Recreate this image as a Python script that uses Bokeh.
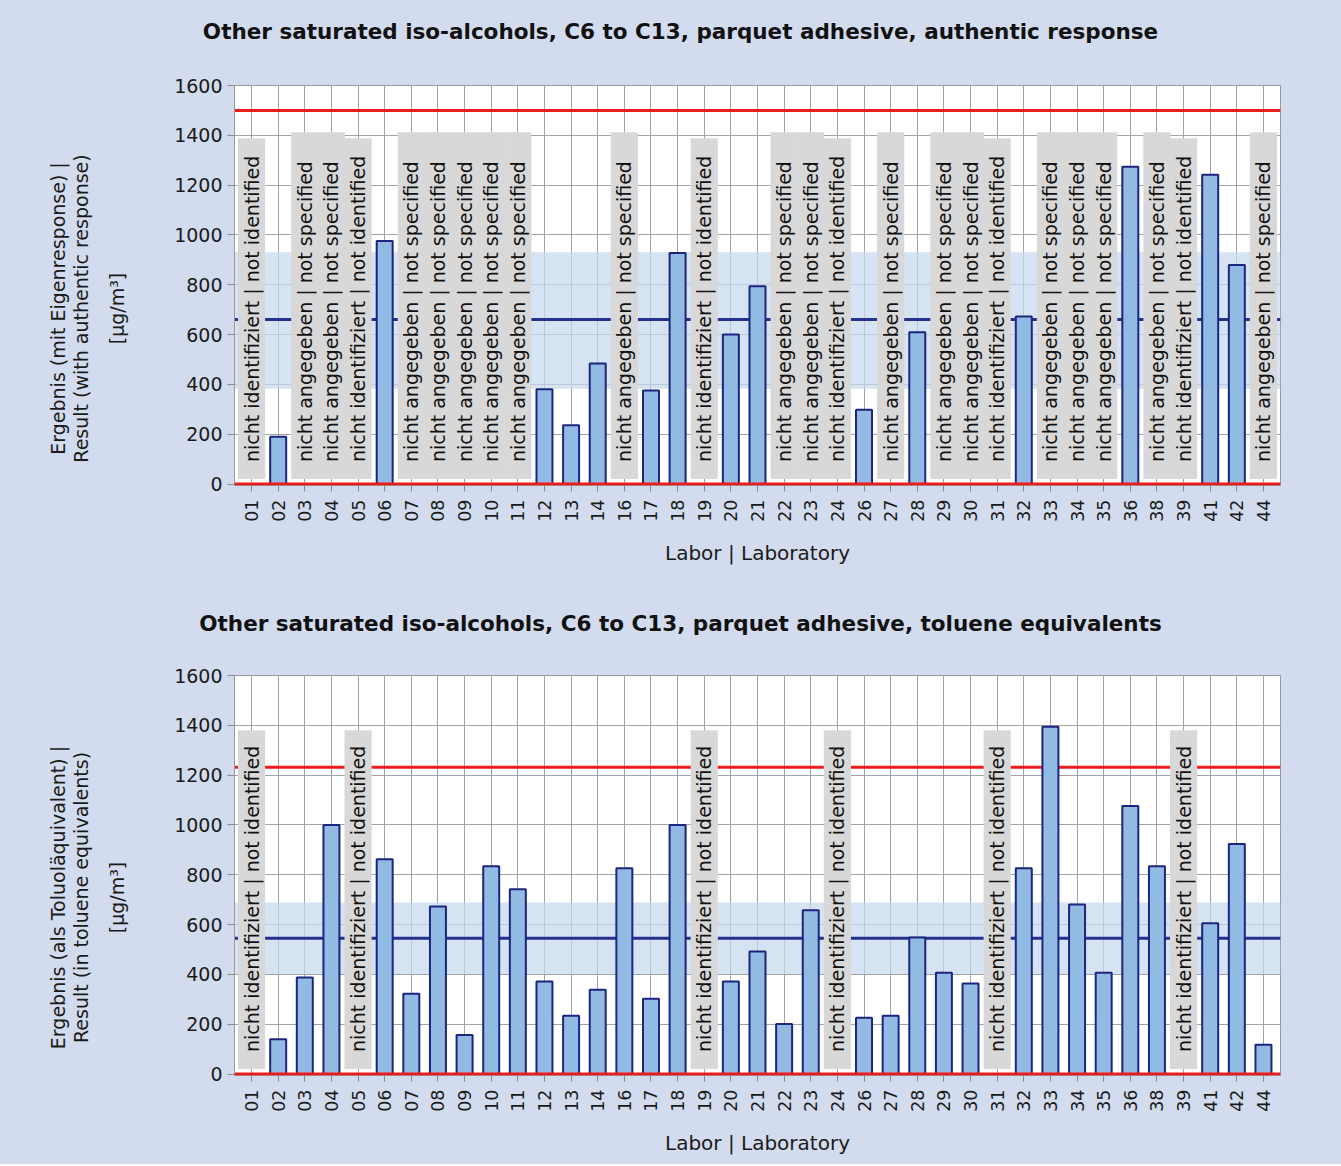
import math
from bokeh.plotting import figure
from bokeh.models import (FactorRange, Range1d, ColumnDataSource, Span, BoxAnnotation,
                          FixedTicker)
from bokeh.layouts import column, row
from bokeh.core.properties import value
from bokeh.embed import file_html
from bokeh.resources import INLINE

# ---------------- data ----------------
labs = ["01", "02", "03", "04", "05", "06", "07", "08", "09", "10", "11", "12", "13",
        "14", "16", "17", "18", "19", "20", "21", "22", "23", "24", "26", "27", "28",
        "29", "30", "31", "32", "33", "34", "35", "36", "38", "39", "41", "42", "44"]

# top chart: authentic response (None = no value; status gives the reason)
top_values = [None, 190, None, None, None, 976, None, None, None, None, None, 380, 236,
              484, None, 375, 927, None, 600, 794, None, None, None, 298, None, 609,
              None, None, None, 673, None, None, None, 1274, None, None, 1242, 879, None]
top_status = ["ni", "", "ns", "ns", "ni", "", "ns", "ns", "ns", "ns", "ns", "", "",
              "", "ns", "", "", "ni", "", "", "ns", "ns", "ni", "", "ns", "",
              "ns", "ns", "ni", "", "ns", "ns", "ns", "", "ns", "ni", "", "", "ns"]

# bottom chart: toluene equivalents
bot_values = [None, 140, 387, 1000, None, 862, 322, 673, 157, 834, 742, 371, 234,
              338, 826, 302, 1000, None, 371, 492, 201, 657, None, 226, 234, 548,
              407, 363, None, 826, 1394, 681, 407, 1076, 834, None, 605, 923, 117]
bot_status = ["ni", "", "", "", "ni", "", "", "", "", "", "", "", "",
              "", "", "", "", "ni", "", "", "", "", "ni", "", "", "",
              "", "", "ni", "", "", "", "", "", "", "ni", "", "", ""]

status_text = {"ni": "nicht identifiziert | not identified",
               "ns": "nicht angegeben | not specified"}

y_ticks = [0, 200, 400, 600, 800, 1000, 1200, 1400, 1600]

top_title = "Other saturated iso-alcohols, C6 to C13, parquet adhesive, authentic response"
bot_title = "Other saturated iso-alcohols, C6 to C13, parquet adhesive, toluene equivalents"
top_ylab = ["Ergebnis (mit Eigenresponse) |", "Result (with authentic response)", "[µg/m³]"]
bot_ylab = ["Ergebnis (als Toluoläquivalent) |", "Result (in toluene equivalents)", "[µg/m³]"]
x_label = "Labor | Laboratory"

top_ref = dict(upper=1500, mean=660, band=(382, 930))
bot_ref = dict(upper=1232, mean=545, band=(402, 689))

# ---------------- style ----------------
BG = "#d2dcee"
GRID = "#a3a3a3"
BAR_FILL = "#91bbe2"
BAR_LINE = "#1c2580"
RED = "#ec1c1c"
MEAN = "#26318c"
BAND = "#c3d7ee"
BOX = "#d8d8d8"
FONT = "DejaVu Sans"

PAGE_W = 1341
LEFT_W = 164
FRAME_H = 400


def strip(width, height, bt=0, bb=0):
    s = figure(width=width, height=height, x_range=Range1d(0, width),
               y_range=Range1d(0, height - bt - bb), x_axis_location=None,
               y_axis_location=None, min_border=0, min_border_top=bt,
               min_border_bottom=bb, output_backend="svg", toolbar_location=None,
               background_fill_color=BG, border_fill_color=BG, title=None)
    s.outline_line_color = None
    s.xgrid.visible = False
    s.ygrid.visible = False
    return s


def title_strip(title, height, y_center_from_top):
    s = strip(PAGE_W, height)
    s.text(x=[680], y=[height - y_center_from_top], text=[title],
           text_font=value(FONT), text_font_style="bold", text_font_size="21.5px",
           text_color="#111111", text_align="center", text_baseline="middle")
    return s


def ylabel_strip(lines, height, bt, bb, y_above_frame_bottom):
    s = strip(LEFT_W, height, bt, bb)
    s.text(x=[57, 80, 116], y=[y_above_frame_bottom] * 3, text=lines,
           angle=math.pi / 2, text_font=value(FONT), text_font_size="19px",
           text_color="#1a1a1a", text_align="center", text_baseline="middle")
    return s


def make_chart(values, status, ref, height, border_top, border_bottom, box_tops):
    p = figure(x_range=FactorRange(factors=labs, range_padding=0.14,
                                   range_padding_units="absolute"),
               y_range=Range1d(-6, 1600),
               width=PAGE_W - LEFT_W, height=height,
               min_border_left=70, min_border_right=61, min_border_top=border_top,
               min_border_bottom=border_bottom, title=None,
               output_backend="svg", toolbar_location=None,
               background_fill_color="white", border_fill_color=BG)
    p.outline_line_color = "#9a9a9a"

    # grids
    p.xgrid.grid_line_color = GRID
    p.ygrid.grid_line_color = GRID
    p.yaxis.ticker = FixedTicker(ticks=y_ticks)

    # axes
    for ax in (p.xaxis, p.yaxis):
        ax.axis_line_color = "#9a9a9a"
        ax.major_tick_line_color = "#8a8a8a"
        ax.major_tick_in = 0
        ax.minor_tick_line_color = None
        ax.major_label_text_font = FONT
        ax.major_label_text_color = "#1a1a1a"
    p.yaxis.major_tick_out = 7
    p.yaxis.major_label_standoff = 5
    p.yaxis.major_label_text_font_size = "19px"
    p.xaxis.major_tick_out = 6
    p.xaxis.major_label_standoff = 8
    p.xaxis.major_label_orientation = math.pi / 2
    p.xaxis.major_label_text_font_size = "17.5px"
    p.xaxis.axis_label = x_label
    p.xaxis.axis_label_standoff = 16
    p.xaxis.axis_label_text_font = FONT
    p.xaxis.axis_label_text_font_style = "normal"
    p.xaxis.axis_label_text_font_size = "20px"
    p.xaxis.axis_label_text_color = "#1a1a1a"

    # band, reference lines
    p.add_layout(BoxAnnotation(bottom=ref["band"][0], top=ref["band"][1], fill_color=BAND,
                               fill_alpha=0.7, line_color=None, level="underlay"))
    p.add_layout(Span(location=ref["upper"], dimension="width", line_color=RED,
                      line_width=3, level="underlay"))
    p.add_layout(Span(location=ref["mean"], dimension="width", line_color=MEAN,
                      line_width=3, level="underlay"))

    # grey "missing value" boxes and texts
    bx = [l for l, s in zip(labs, status) if s]
    btop = [box_tops[s] for s in status if s]
    btxt = [status_text[s] for s in status if s]
    bsrc = ColumnDataSource(dict(x=bx, top=btop, txt=btxt, ty=[88] * len(bx)))
    p.vbar(x="x", bottom=20, top="top", width=1.02, source=bsrc,
           fill_color=BOX, line_color=None)
    p.text(x="x", y="ty", text="txt", source=bsrc, angle=math.pi / 2,
           text_font=value(FONT), text_font_size="19px", text_color="#111111",
           text_align="left", text_baseline="middle")

    # bars
    vx = [l for l, v in zip(labs, values) if v is not None]
    vv = [v for v in values if v is not None]
    p.vbar(x=vx, top=vv, bottom=0, width=0.6, fill_color=BAR_FILL,
           line_color=BAR_LINE, line_width=2)

    # zero line on top
    p.add_layout(Span(location=0, dimension="width", line_color=RED, line_width=3))
    return p


# top chart: page y 0..598 (title strip 70, body 528: border 15 + frame 400 + 113)
t1 = title_strip(top_title, 70, 31)
l1 = ylabel_strip(top_ylab, 528, 15, 113, 177)
p1 = make_chart(top_values, top_status, top_ref, 528, 15, 113, {"ni": 1388, "ns": 1412})

# bottom chart: page y 598..1164 (title strip 60, body 506: border 17 + frame 400 + 89)
t2 = title_strip(bot_title, 60, 25)
l2 = ylabel_strip(bot_ylab, 506, 17, 89, 178)
p2 = make_chart(bot_values, bot_status, bot_ref, 506, 17, 89, {"ni": 1380, "ns": 1412})

layout = column(t1, row(l1, p1), t2, row(l2, p2), styles={"background-color": BG})
open("out.html", "w").write(file_html(layout, INLINE))
